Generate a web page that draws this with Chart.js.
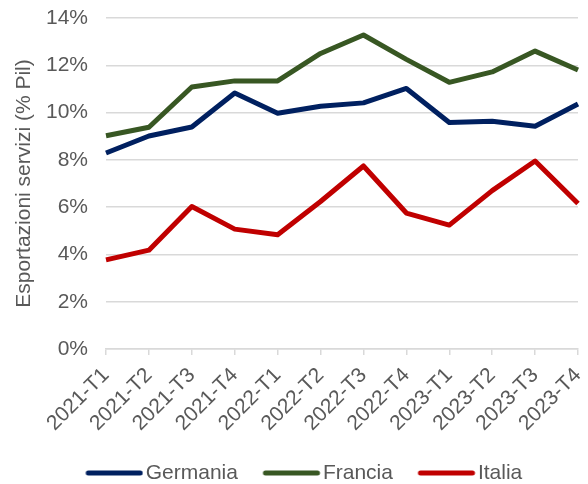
<!DOCTYPE html>
<html lang="it">
<head>
<meta charset="utf-8">
<title>Esportazioni servizi</title>
<script src="https://cdn.jsdelivr.net/npm/chart.js@4/dist/chart.umd.min.js"></script>
<style>
  html, body { margin: 0; padding: 0; background: #ffffff; }
  #wrap { width: 588px; height: 484px; }
</style>
</head>
<body>
<div id="wrap"><canvas id="chart" width="588" height="484"></canvas></div>
<script>
// Trimestri
const categories = ['2021-T1', '2021-T2', '2021-T3', '2021-T4',
                    '2022-T1', '2022-T2', '2022-T3', '2022-T4',
                    '2023-T1', '2023-T2', '2023-T3', '2023-T4'];

// Esportazioni di servizi in % del Pil
const germania = [8.29, 9.01, 9.39, 10.83, 9.97, 10.27, 10.41, 11.02, 9.58, 9.63, 9.42, 10.36];
const francia  = [9.02, 9.38, 11.08, 11.34, 11.34, 12.50, 13.28, 12.25, 11.28, 11.72, 12.60, 11.80];
const italia   = [3.77, 4.18, 6.03, 5.07, 4.83, 6.24, 7.74, 5.75, 5.24, 6.70, 7.95, 6.15];

// Asse verticale
const yTicks = [0, 2, 4, 6, 8, 10, 12, 14];

const seriesNames = ['Germania', 'Francia', 'Italia'];
const seriesColors = ['#002060', '#385723', '#c00000'];

const textColor = '#595959';
const gridColor = '#d9d9d9';
const fontFamily = "'Liberation Sans', Arial, sans-serif";
const fontSize = 21;

// Simbolo di legenda: tratto con estremi arrotondati, spostato verso il testo
function legendLine(color) {
  const c = document.createElement('canvas');
  c.width = 76;
  c.height = 8;
  const g = c.getContext('2d');
  g.strokeStyle = color;
  g.lineWidth = 5;
  g.lineCap = 'round';
  g.beginPath();
  g.moveTo(20.75, 4);
  g.lineTo(72.75, 4);
  g.stroke();
  return c;
}
const legendSymbols = seriesColors.map(legendLine);

// Posizione della legenda sotto il grafico
const legendShift = {
  id: 'legendShift',
  afterLayout(chart) {
    const lg = chart.legend;
    if (!lg) return;
    const dx = 10, dy = 9.5;
    lg.left += dx; lg.right += dx;
    lg.top += dy; lg.bottom += dy;
  }
};

const series = [germania, francia, italia];

new Chart(document.getElementById('chart'), {
  type: 'line',
  data: {
    labels: categories,
    datasets: series.map((values, i) => ({
      label: seriesNames[i],
      data: values,
      borderColor: seriesColors[i],
      backgroundColor: seriesColors[i],
      borderWidth: 5,
      borderJoinStyle: 'round',
      pointRadius: 0,
      pointHoverRadius: 0,
      tension: 0,
      fill: false
    }))
  },
  options: {
    responsive: false,
    animation: false,
    events: [],
    layout: { padding: { top: 18, right: 10, left: 0, bottom: 0 } },
    plugins: {
      tooltip: { enabled: false },
      legend: {
        position: 'bottom',
        labels: {
          usePointStyle: true,
          pointStyleWidth: 59.5,
          padding: 15,
          color: textColor,
          font: { family: fontFamily, size: fontSize },
          generateLabels(chart) {
            return chart.data.datasets.map((ds, i) => ({
              text: ds.label,
              fillStyle: ds.borderColor,
              strokeStyle: ds.borderColor,
              lineWidth: 0,
              pointStyle: legendSymbols[i],
              fontColor: textColor,
              hidden: false,
              datasetIndex: i
            }));
          }
        }
      }
    },
    scales: {
      x: {
        offset: false,
        grid: {
          drawOnChartArea: false,
          drawTicks: true,
          tickLength: 6,
          color: gridColor,
          lineWidth: 1.5
        },
        border: { display: true, color: gridColor, width: 1.5 },
        ticks: {
          color: textColor,
          font: { family: fontFamily, size: fontSize },
          minRotation: 45,
          maxRotation: 45,
          autoSkip: false,
          padding: 8
        },
        afterFit(scale) {
          const lgH = scale.chart.legend ? scale.chart.legend.height : 0;
          scale.height = 484 - 349 - lgH;
          scale.paddingLeft = 0;
          scale.paddingRight = 0;
        }
      },
      y: {
        min: 0,
        max: 14,
        afterBuildTicks(scale) { scale.ticks = yTicks.map(v => ({ value: v })); },
        grid: { color: gridColor, lineWidth: 1.5, drawTicks: false },
        border: { display: false },
        ticks: {
          color: textColor,
          font: { family: fontFamily, size: fontSize },
          padding: 18,
          callback: v => v + '%'
        },
        title: {
          display: true,
          text: 'Esportazioni servizi (% Pil)',
          color: textColor,
          font: { family: fontFamily, size: fontSize },
          padding: { top: 12, bottom: 0 }
        },
        afterFit(scale) {
          scale.width = 106;
          scale.paddingTop = 0;
          scale.paddingBottom = 0;
        }
      }
    }
  },
  plugins: [legendShift]
});
</script>
</body>
</html>
